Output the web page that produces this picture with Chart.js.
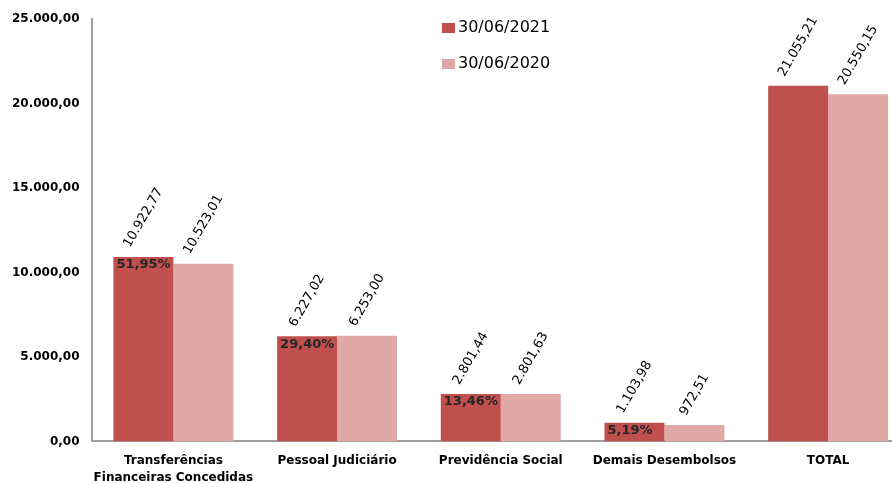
<!DOCTYPE html>
<html lang="pt-br">
<head>
<meta charset="UTF-8">
<title>Desembolsos</title>
<script src="https://cdn.jsdelivr.net/npm/chart.js"></script>
<style>
	html, body { margin: 0; padding: 0; background: #fff; overflow: hidden; }
	.grafico { width: 912px; height: 483px; }
</style>
</head>
<body>
<div class="grafico">
	<canvas id="graficoDesembolsos"></canvas>
</div>
<script>
	var categorias = [['Transferências', 'Financeiras Concedidas'], 'Pessoal Judiciário', 'Previdência Social', 'Demais Desembolsos', 'TOTAL'];
	var valores2021 = [10922.77, 6227.02, 2801.44, 1103.98, 21055.21];
	var valores2020 = [10523.01, 6253.00, 2801.63, 972.51, 20550.15];
	var percentuais = ['51,95%', '29,40%', '13,46%', '5,19%', ''];
	var ticksY = [0, 5000, 10000, 15000, 20000, 25000];

	function formatar(v) {
		return v.toLocaleString('pt-BR', { minimumFractionDigits: 2, maximumFractionDigits: 2 });
	}

	// rotulos girados em cima das barras + percentuais dentro das barras de 2021
	var rotulos = {
		id: 'rotulos',
		afterDatasetsDraw: function (chart) {
			var ctx = chart.ctx;
			chart.data.datasets.forEach(function (ds, i) {
				var meta = chart.getDatasetMeta(i);
				meta.data.forEach(function (bar, j) {
					var texto = formatar(ds.data[j]);
					ctx.save();
					ctx.font = '13px "DejaVu Sans"';
					var w = ctx.measureText(texto).width;
					var alturaV = w * Math.sin(Math.PI / 3) + 14 * Math.cos(Math.PI / 3);
					ctx.translate(bar.x, bar.y - 7 - alturaV / 2);
					ctx.rotate(-Math.PI / 3);
					ctx.fillStyle = '#000';
					ctx.textAlign = 'center';
					ctx.textBaseline = 'middle';
					ctx.fillText(texto, 0, 0);
					ctx.restore();

					if (i === 0 && percentuais[j]) {
						ctx.save();
						ctx.font = 'bold 13px "DejaVu Sans"';
						ctx.fillStyle = '#262626';
						ctx.textAlign = 'left';
						ctx.textBaseline = 'middle';
						ctx.fillText(percentuais[j], bar.x - bar.width / 2 + 3, bar.y + 8);
						ctx.restore();
					}
				});
			});
		}
	};

	var legenda = {
		id: 'legenda',
		afterDraw: function (chart) {
			var ctx = chart.ctx;
			chart.data.datasets.forEach(function (ds, i) {
				var y = 28 + i * 36;
				ctx.save();
				ctx.fillStyle = ds.backgroundColor;
				ctx.fillRect(442, y - 5, 13, 10);
				ctx.fillStyle = '#000';
				ctx.font = '16px "DejaVu Sans"';
				ctx.textBaseline = 'middle';
				ctx.fillText(ds.label, 458, y);
				ctx.restore();
			});
		}
	};

	var ctx = document.getElementById('graficoDesembolsos').getContext('2d');
	var grafico = new Chart(ctx, {
		type: 'bar',
		data: {
			labels: categorias,
			datasets: [{
				label: '30/06/2021',
				data: valores2021,
				backgroundColor: '#C0504D'
			}, {
				label: '30/06/2020',
				data: valores2020,
				backgroundColor: '#E0A8A7'
			}]
		},
		options: {
			responsive: true,
			maintainAspectRatio: false,
			animation: false,
			datasets: {
				bar: { categoryPercentage: 0.733, barPercentage: 1.0 }
			},
			layout: { padding: { top: 12, right: 2, left: 0, bottom: -14 } },
			plugins: {
				legend: { display: false },
				tooltip: { enabled: false }
			},
			scales: {
				x: {
					grid: { display: false, drawTicks: false },
					border: { color: '#A0A0A0', width: 2 },
					ticks: {
						color: '#000',
						font: { family: 'DejaVu Sans', size: 12, weight: 'bold', lineHeight: 1.4 },
						padding: 11,
						maxRotation: 0,
						autoSkip: false
					}
				},
				y: {
					min: 0,
					max: 25000,
					afterBuildTicks: function (axis) {
						axis.ticks = ticksY.map(function (v) { return { value: v }; });
					},
					grid: { display: false, drawTicks: false },
					border: { color: '#A0A0A0', width: 2 },
					ticks: {
						color: '#000',
						font: { family: 'DejaVu Sans', size: 12, weight: 'bold' },
						padding: 12,
						callback: function (v) { return formatar(v); }
					}
				}
			}
		},
		plugins: [rotulos, legenda]
	});
</script>
</body>
</html>
